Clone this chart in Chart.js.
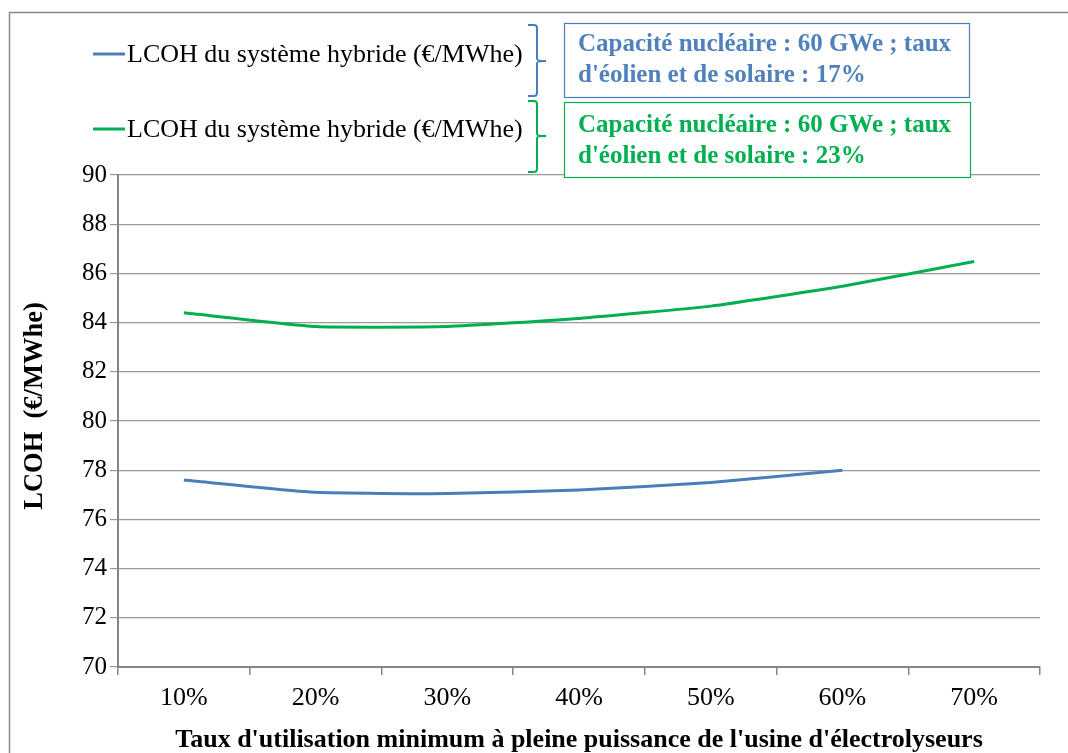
<!DOCTYPE html>
<html>
<head>
<meta charset="utf-8">
<script src="https://cdn.jsdelivr.net/npm/chart.js@4.4.1/dist/chart.umd.min.js"></script>
<style>
  html, body { margin: 0; padding: 0; background: #ffffff; }
  #wrap { position: relative; width: 1068px; height: 753px; }
  canvas { display: block; }
</style>
</head>
<body>
<div id="wrap"><canvas id="c" width="1068" height="753"></canvas></div>
<script>
// ---- data ----
const categories = ['10%', '20%', '30%', '40%', '50%', '60%', '70%'];
const series17 = [77.6, 77.1, 77.05, 77.2, 77.5, 78.0, null];
const series23 = [84.4, 83.84, 83.84, 84.17, 84.67, 85.48, 86.48];
const legendLabel = 'LCOH du système hybride (€/MWhe)';
const box17Lines = ['Capacité nucléaire : 60 GWe ; taux', "d'éolien et de solaire : 17%"];
const box23Lines = ['Capacité nucléaire : 60 GWe ; taux', "d'éolien et de solaire : 23%"];
const yTitle = 'LCOH  (€/MWhe)';
const xTitle = "Taux d'utilisation minimum à pleine puissance de l'usine d'électrolyseurs";
const yMin = 70, yMax = 90, yStep = 2;

const BLUE = '#4A7EBB';
const GREEN = '#00B050';
const AXIS = '#868686';
const SERIF = '"Liberation Serif", "Times New Roman", serif';

const decor = {
  id: 'decor',
  beforeDraw(chart) {
    const ctx = chart.ctx;
    ctx.save();
    ctx.strokeStyle = '#8a8a8a';
    ctx.lineWidth = 1.5;
    ctx.beginPath();
    ctx.moveTo(9.5, 753);
    ctx.lineTo(9.5, 12.5);
    ctx.lineTo(1068, 12.5);
    ctx.stroke();
    ctx.restore();
  },
  afterDraw(chart) {
    const ctx = chart.ctx;
    ctx.save();
    // y title
    ctx.translate(35, 406);
    ctx.rotate(-Math.PI / 2);
    ctx.font = 'bold 26.5px ' + SERIF;
    ctx.fillStyle = '#000';
    ctx.textAlign = 'center';
    ctx.textBaseline = 'middle';
    ctx.fillText(yTitle, 0, 0);
    ctx.restore();

    // legend entries
    const entries = [
      {color: BLUE, y: 54, b: [25, 96, 61], box: [564, 23, 405, 74], lines: box17Lines, ly: [45, 76]},
      {color: GREEN, y: 129, b: [101, 172, 136], box: [564, 102, 406, 75], lines: box23Lines, ly: [126, 157]}
    ];
    entries.forEach(e => {
      ctx.save();
      ctx.strokeStyle = e.color;
      ctx.lineWidth = 3;
      ctx.beginPath();
      ctx.moveTo(93, e.y);
      ctx.lineTo(125, e.y);
      ctx.stroke();
      ctx.fillStyle = '#000';
      ctx.font = '26px ' + SERIF;
      ctx.textAlign = 'left';
      ctx.textBaseline = 'middle';
      ctx.fillText(legendLabel, 127, e.y + 1);
      // bracket
      ctx.lineWidth = 2;
      ctx.beginPath();
      ctx.moveTo(528, e.b[0]);
      ctx.lineTo(534, e.b[0]);
      ctx.quadraticCurveTo(537, e.b[0], 537, e.b[0] + 3);
      ctx.lineTo(537, e.b[2] - 2);
      ctx.quadraticCurveTo(537, e.b[2], 546, e.b[2]);
      ctx.moveTo(537, e.b[2] + 2);
      ctx.quadraticCurveTo(537, e.b[2], 546, e.b[2]);
      ctx.moveTo(537, e.b[2] + 2);
      ctx.lineTo(537, e.b[1] - 3);
      ctx.quadraticCurveTo(537, e.b[1], 534, e.b[1]);
      ctx.lineTo(528, e.b[1]);
      ctx.stroke();
      // box
      ctx.fillStyle = '#fff';
      ctx.fillRect(e.box[0], e.box[1], e.box[2], e.box[3]);
      ctx.lineWidth = 1.2;
      ctx.strokeRect(e.box[0] + 0.5, e.box[1] + 0.5, e.box[2], e.box[3]);
      ctx.fillStyle = e.color === BLUE ? '#4F81BD' : GREEN;
      ctx.font = 'bold 25px ' + SERIF;
      ctx.fillText(e.lines[0], 578, e.ly[0]);
      ctx.fillText(e.lines[1], 578, e.ly[1]);
      ctx.restore();
    });
  }
};

new Chart(document.getElementById('c'), {
  type: 'line',
  data: {
    labels: categories,
    datasets: [
      {label: legendLabel, data: series17, borderColor: BLUE, borderWidth: 3, pointRadius: 0, tension: 0.15, spanGaps: false},
      {label: legendLabel, data: series23, borderColor: GREEN, borderWidth: 3, pointRadius: 0, tension: 0.15}
    ]
  },
  options: {
    responsive: false,
    animation: false,
    layout: {padding: {top: 175, right: 28, left: 0, bottom: 0}},
    plugins: {legend: {display: false}, tooltip: {enabled: false}},
    scales: {
      x: {
        type: 'category',
        offset: true,
        grid: {offset: true, drawOnChartArea: false, drawTicks: true, tickLength: 8, color: AXIS, lineWidth: 1.5},
        border: {color: AXIS, width: 2},
        ticks: {color: '#000', font: {family: SERIF, size: 26}, padding: 8, maxRotation: 0},
        title: {display: true, text: xTitle, color: '#000', font: {family: SERIF, size: 26, weight: 'bold'}, padding: {top: 0, bottom: -3}},
        afterFit(s) { s.height = 86; }
      },
      y: {
        min: yMin, max: yMax,
        ticks: {stepSize: yStep, color: '#000', font: {family: SERIF, size: 25}, padding: 3},
        grid: {color: '#999999', lineWidth: 1.2, tickLength: 8},
        border: {color: AXIS, width: 2},
        afterFit(s) { s.width = 118; }
      }
    }
  },
  plugins: [decor]
});
</script>
</body>
</html>
